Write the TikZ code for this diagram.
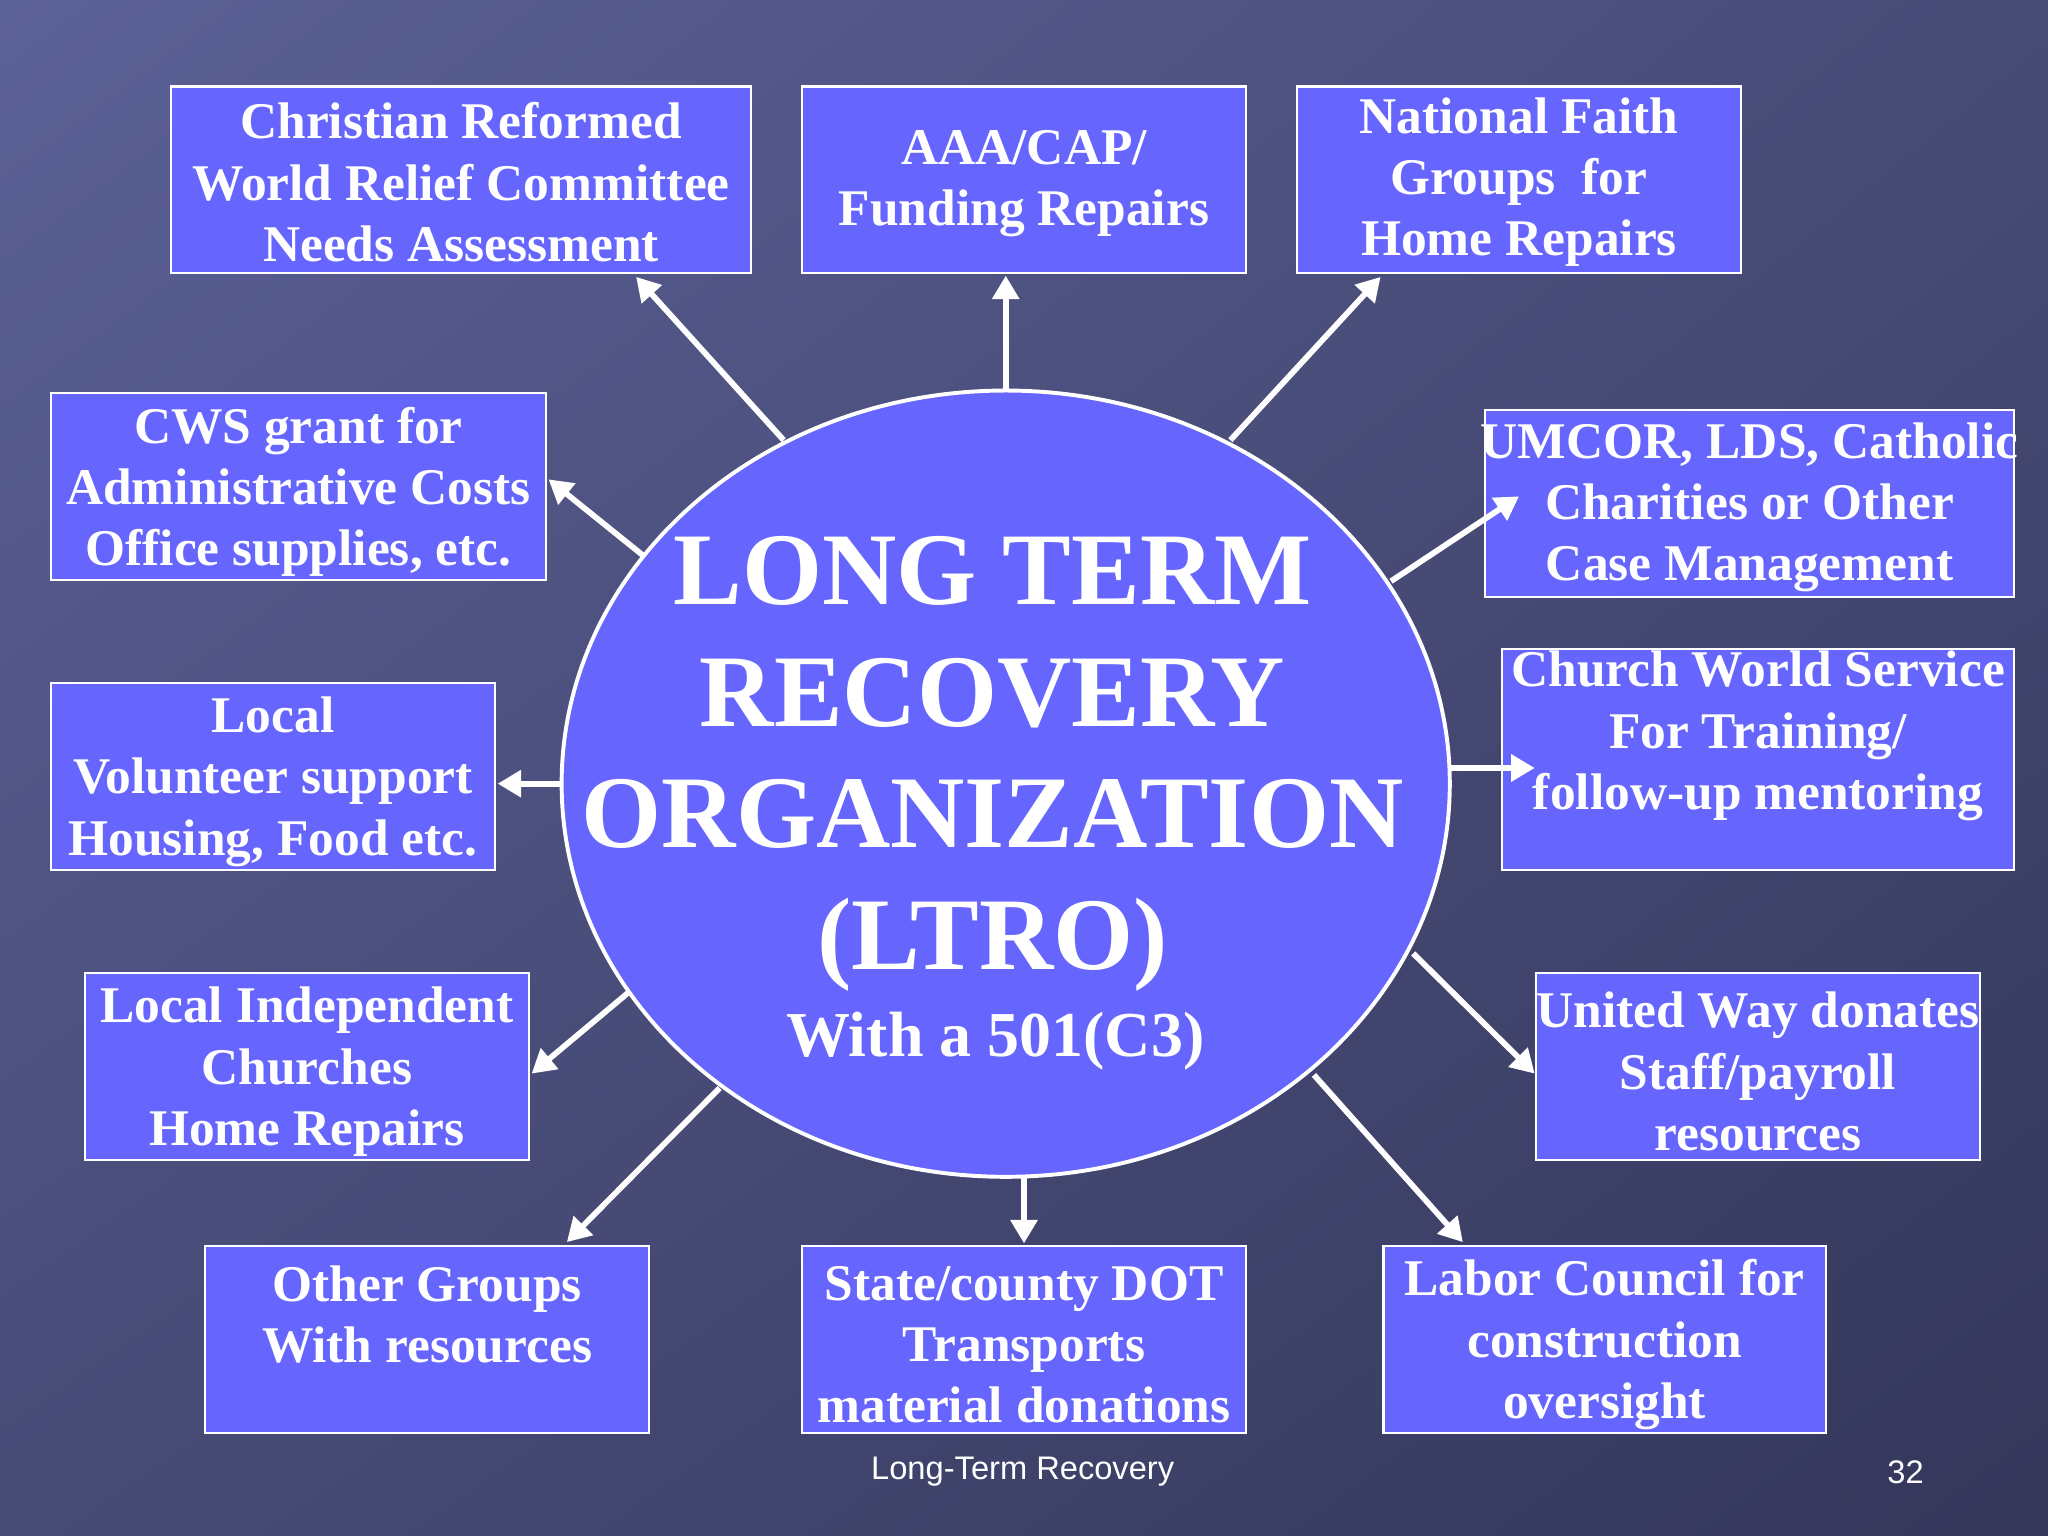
\documentclass[tikz,border=0pt]{standalone}
\usepackage{fontspec}
\setmainfont{Liberation Serif}
\newfontfamily\footfont{Liberation Sans}
\usetikzlibrary{shapes.geometric,arrows.meta,shadings}
\definecolor{bgA}{HTML}{5C6196}
\definecolor{bgM}{HTML}{474B76}
\definecolor{bgB}{HTML}{34375A}
\definecolor{boxc}{HTML}{6666FF}
\tikzset{
 bx/.style={draw=white,line width=1pt,fill=boxc,inner sep=0pt},
 tx/.style={text=white,font=\bfseries\fontsize{19.7}{23.5}\selectfont,align=center,inner sep=0pt},
 arr/.style={draw=white,line width=2.2pt,-{Triangle[length=9pt,width=10pt]}}
}
\begin{document}
\begin{tikzpicture}[x=0.5pt,y=-0.5pt]
\shade[upper left=bgA,upper right=bgM,lower left=bgM,lower right=bgB] (0,0) rectangle (1568,1176);
\useasboundingbox (0,0) rectangle (1568,1176);
\newcommand{\bxat}[7]{\node[bx,minimum width={(#4-#2)*0.5pt},minimum height={(#5-#3)*0.5pt}] (#1) at ({(#2+#4)/2},{(#3+#5)/2}) {};
\node[tx] (#1t) at ({(#2+#4)/2},{(#3+#5)/2+#6}) {#7};}
\bxat{b1}{131}{66}{575}{209}{2}{Christian Reformed\\World Relief Committee\\Needs Assessment}
\bxat{b2}{614}{66}{954}{209}{3}{AAA/CAP/\\Funding Repairs}
\bxat{b3}{993}{66}{1333}{209}{2}{National Faith\\Groups\ \ for\\Home Repairs}
\bxat{b4}{39}{301}{418}{444}{4}{CWS grant for\\Administrative Costs\\Office supplies, etc.}
\bxat{b5}{1137}{314}{1542}{457}{3}{UMCOR, LDS, Catholic\\Charities or Other\\Case Management}
\bxat{b6}{39}{523}{379}{666}{4}{Local\\Volunteer support\\Housing, Food etc.}
\bxat{b7}{1150}{497}{1542}{666}{-18}{Church World Service\\For Training/\\follow-up mentoring}
\bxat{b8}{65}{745}{405}{888}{4}{Local Independent\\Churches\\Home Repairs}
\bxat{b9}{1176}{745}{1516}{888}{4}{United Way donates\\Staff/payroll\\resources}
\bxat{b10}{157}{954}{497}{1097}{-19}{Other Groups\\With resources}
\bxat{b11}{614}{954}{954}{1097}{4}{State/county DOT\\Transports\\material donations}
\bxat{b12}{1059}{954}{1398}{1097}{4}{Labor Council for\\construction\\oversight}
\node[ellipse,draw=white,line width=1.5pt,fill=boxc,minimum width=340pt,minimum height=301pt,inner sep=0pt] (c) at (770,600) {};
\node[text=white,font=\bfseries\fontsize{39.4}{46.5}\selectfont,align=center] (t) at (760,585) {LONG TERM\\RECOVERY\\ORGANIZATION\\(LTRO)};
\node[text=white,font=\bfseries\fontsize{24.5}{28}\selectfont] (t2) at (762,797) {With a 501(C3)};
\coordinate (s1) at (600,337); \coordinate (e1) at (487,212);
\coordinate (s2) at (770,298); \coordinate (e2) at (770,211);
\coordinate (s3) at (942,337); \coordinate (e3) at (1057,212);
\coordinate (s4) at (492,425); \coordinate (e4) at (420,367);
\coordinate (s5) at (1065,445); \coordinate (e5) at (1163,380);
\coordinate (s6) at (430,600); \coordinate (e6) at (381,600);
\coordinate (s7) at (1110,588); \coordinate (e7) at (1175,588);
\coordinate (s8) at (481,760); \coordinate (e8) at (407,822);
\coordinate (s9) at (1082,730); \coordinate (e9) at (1175,822);
\coordinate (s10) at (551,833); \coordinate (e10) at (434,951);
\coordinate (s11) at (784,901); \coordinate (e11) at (784,952);
\coordinate (s12) at (1006,823); \coordinate (e12) at (1120,951);
\foreach \i in {1,...,12} {\draw[arr] (s\i) -- (e\i);}
\node[text=white,font=\footfont\fontsize{12.5}{14}\selectfont] (f1) at (783,1127) {Long-Term Recovery};
\node[text=white,font=\footfont\fontsize{12.5}{14}\selectfont] (f2) at (1459,1127) {32};
\end{tikzpicture}
\end{document}
